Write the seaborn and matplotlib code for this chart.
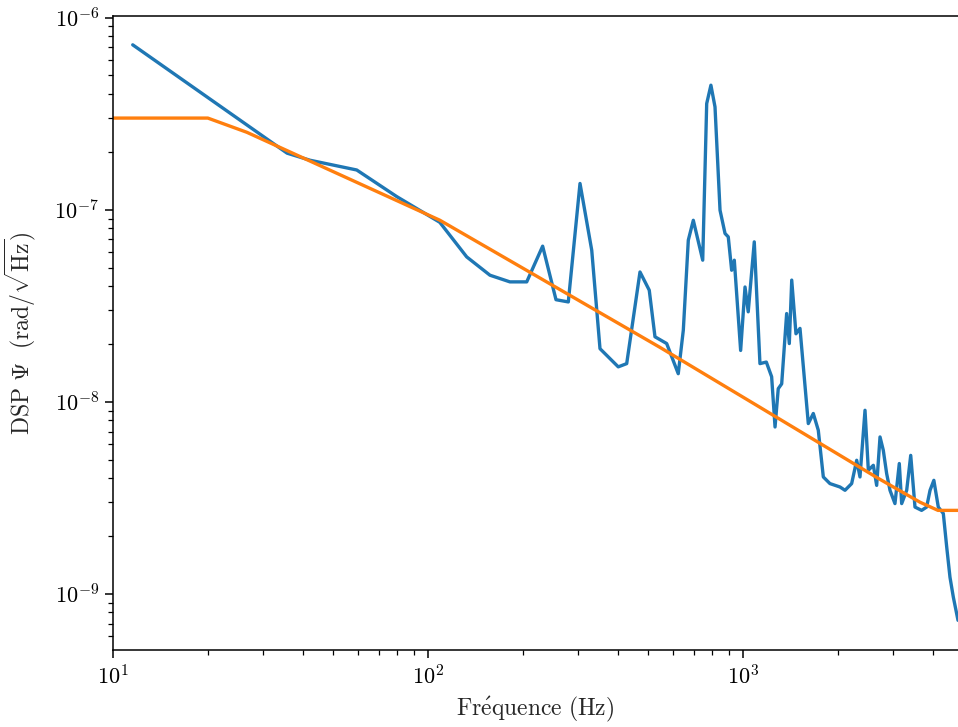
import matplotlib
matplotlib.use("Agg")
import matplotlib.pyplot as plt
from matplotlib.ticker import NullFormatter
import seaborn as sns
import numpy as np
import pandas as pd

freq_mes = [11.55, 35.7, 42.2, 59.4, 79.6, 109, 132.7, 157.3, 182, 205.8,
            231.2, 254.9, 278.9, 303.8, 331, 351.6, 401.8, 427.4, 471, 504,
            525.5, 572.5, 623, 646.5, 670.5, 695.5, 745, 767, 791, 815,
            845.5, 877, 898, 920.5, 938.5, 983, 1015, 1039, 1086, 1132,
            1186, 1233, 1264, 1294, 1327, 1376, 1403, 1428, 1473, 1517,
            1612, 1672, 1734, 1799, 1888, 2032, 2108, 2213, 2296, 2352,
            2440, 2500, 2593, 2657, 2723, 2789, 2858, 2929, 3037, 3135,
            3190, 3309, 3408, 3516, 3690, 3828, 3925, 4036, 4169, 4325,
            4434, 4541, 4653, 4815]
dsp_mes = [7.22e-7, 1.97e-7, 1.81e-7, 1.61e-7, 1.17e-7, 8.6e-8, 5.68e-8, 4.56e-8, 4.21e-8, 4.21e-8,
           6.46e-8, 3.40e-8, 3.31e-8, 1.37e-7, 6.15e-8, 1.89e-8, 1.52e-8, 1.58e-8, 4.74e-8, 3.81e-8,
           2.18e-8, 2.01e-8, 1.40e-8, 2.36e-8, 6.94e-8, 8.81e-8, 5.46e-8, 3.57e-7, 4.45e-7, 3.43e-7,
           9.94e-8, 7.52e-8, 7.22e-8, 4.84e-8, 5.46e-8, 1.85e-8, 3.96e-8, 2.94e-8, 6.80e-8, 1.58e-8,
           1.61e-8, 1.35e-8, 7.39e-9, 1.17e-8, 1.24e-8, 2.88e-8, 2.01e-8, 4.30e-8, 2.26e-8, 2.41e-8,
           7.70e-9, 8.69e-9, 7.11e-9, 4.06e-9, 3.75e-9, 3.60e-9, 3.46e-9, 3.75e-9, 4.96e-9, 4.06e-9,
           9.03e-9, 4.40e-9, 4.67e-9, 3.67e-9, 6.56e-9, 5.59e-9, 4.23e-9, 3.46e-9, 2.95e-9, 4.77e-9,
           2.95e-9, 3.46e-9, 5.26e-9, 2.83e-9, 2.72e-9, 2.83e-9, 3.46e-9, 3.90e-9, 2.83e-9, 2.62e-9,
           1.75e-9, 1.22e-9, 9.62e-10, 7.28e-10]

# model / specification curve (orange)
freq_mod = [10, 20, 26.6, 109, 545, 1132, 2683, 3647, 4159, 4815]
dsp_mod = [3.0e-7, 3.0e-7, 2.53e-7, 8.82e-8, 1.92e-8, 9.36e-9, 4.0e-9, 3.0e-9, 2.72e-9, 2.72e-9]

sns.set_theme(style="ticks")
plt.rcParams.update({
    "font.family": "serif",
    "font.serif": ["cmr10", "DejaVu Serif"],
    "mathtext.fontset": "cm",
    "axes.formatter.use_mathtext": True,
    "axes.linewidth": 1.1,
    "xtick.major.size": 6, "ytick.major.size": 6,
    "xtick.minor.size": 3.5, "ytick.minor.size": 3.5,
    "xtick.major.width": 1.1, "ytick.major.width": 1.1,
    "xtick.minor.width": 0.9, "ytick.minor.width": 0.9,
    "xtick.color": "black", "ytick.color": "black",
    "axes.edgecolor": "black",
})

df_mes = pd.DataFrame({"f": freq_mes, "dsp": dsp_mes})
df_mod = pd.DataFrame({"f": freq_mod, "dsp": dsp_mod})

fig = plt.figure(figsize=(9.58, 7.27), dpi=100)
ax = fig.add_axes([113 / 958, 77 / 727, 1 - 113 / 958, 634 / 727])

sns.lineplot(data=df_mes, x="f", y="dsp", ax=ax, color="#1f77b4", lw=2.4,
             estimator=None, sort=False)
sns.lineplot(data=df_mod, x="f", y="dsp", ax=ax, color="#ff7f0e", lw=2.4,
             estimator=None, sort=False)

ax.set_xscale("log")
ax.set_yscale("log")
ax.set_xlim(10, 4815)
ax.set_ylim(5.1e-10, 1.02e-6)
ax.spines["right"].set_visible(False)
ax.xaxis.set_minor_formatter(NullFormatter())
ax.yaxis.set_minor_formatter(NullFormatter())
ax.tick_params(axis="both", which="major", labelsize=16, pad=4)

ax.set_xlabel(r"$\mathrm{Fr\acute{e}quence\ (Hz)}$", fontsize=17, labelpad=5)
ax.set_ylabel(r"$\mathrm{DSP}\ \mathit{\Psi}\ \ (\mathrm{rad}/\sqrt{\mathrm{Hz}})$",
              fontsize=17, labelpad=12)

fig.savefig("out.png", dpi=100)
